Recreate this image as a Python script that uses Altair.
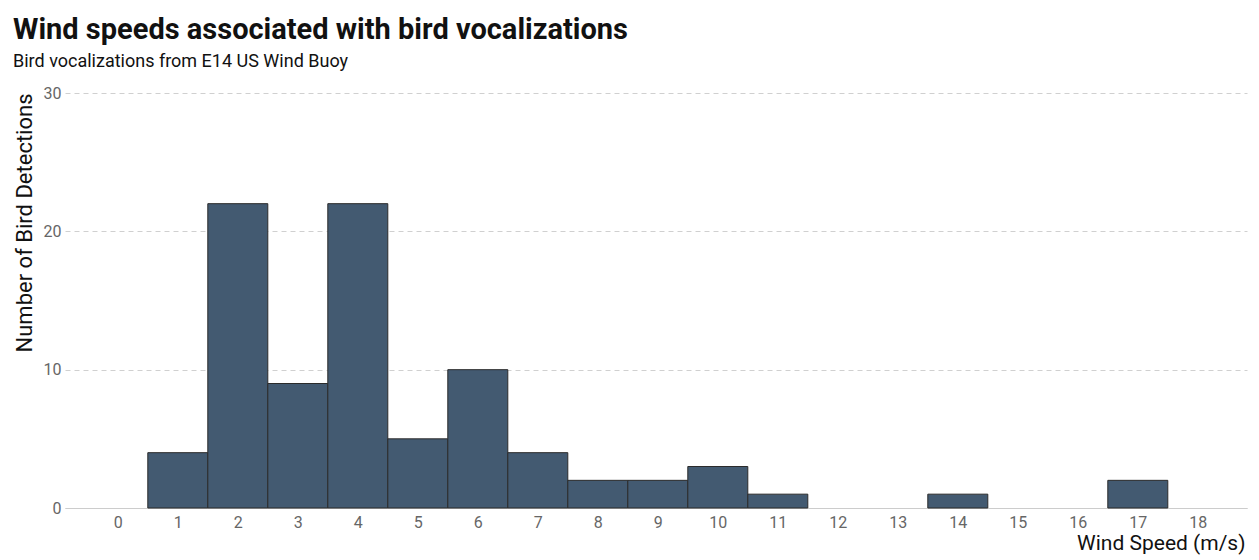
import altair as alt
import pandas as pd

speeds = [1, 2, 3, 4, 5, 6, 7, 8, 9, 10, 11, 14, 17]
counts = [4, 22, 9, 22, 5, 10, 4, 2, 2, 3, 1, 1, 2]
x_ticks = list(range(0, 19))
y_ticks = [0, 10, 20, 30]

df = pd.DataFrame({"speed": speeds, "count": counts})
df["lo"] = df["speed"] - 0.5
df["hi"] = df["speed"] + 0.5

FONT = "Roboto, Liberation Sans, sans-serif"

bars = alt.Chart(df).mark_rect(
    color="#435a71", stroke="#2b2b2b", strokeWidth=1
).encode(
    x=alt.X("lo:Q", scale=alt.Scale(domain=[-0.88, 18.82], nice=False, zero=False),
            axis=alt.Axis(values=x_ticks, title="Wind Speed (m/s)", grid=False,
                          ticks=False, domain=True, domainColor="#cccccc",
                          labelColor="#666666", labelFontSize=16, labelPadding=6,
                          labelFont=FONT, titleFont=FONT, titleFontSize=21,
                          titleFontWeight="normal", titleColor="#111111",
                          titleAnchor="end", titleAlign="right",
                          titleBaseline="alphabetic", titleX=1180, titleY=41)),
    x2="hi:Q",
    y=alt.Y("count:Q", scale=alt.Scale(domain=[0, 30], nice=False),
            axis=alt.Axis(values=y_ticks, title="Number of Bird Detections",
                          grid=True, gridDash=[5, 4], gridColor="#d0d0d0",
                          ticks=False, domain=False, labelColor="#666666",
                          labelFontSize=16, labelPadding=4, labelFont=FONT,
                          titleFont=FONT, titleFontSize=22, titleFontWeight="normal",
                          titleColor="#111111", titleAnchor="end", titlePadding=7)),
)

chart = bars.properties(
    width=1182, height=415,
    autosize=alt.AutoSizeParams(type="none"),
    padding={"left": 57, "top": 85, "right": 4, "bottom": 50},
    title=alt.TitleParams(
        "Wind speeds associated with bird vocalizations",
        subtitle="Bird vocalizations from E14 US Wind Buoy",
        anchor="start", offset=14,
        font=FONT, fontSize=29, fontWeight="bold", color="#111111",
        subtitleFont=FONT, subtitleFontSize=18, subtitleColor="#111111",
        subtitlePadding=8,
    ),
).configure_view(stroke=None)

chart.save("out.html", embed_options={"renderer": "svg", "actions": False})
